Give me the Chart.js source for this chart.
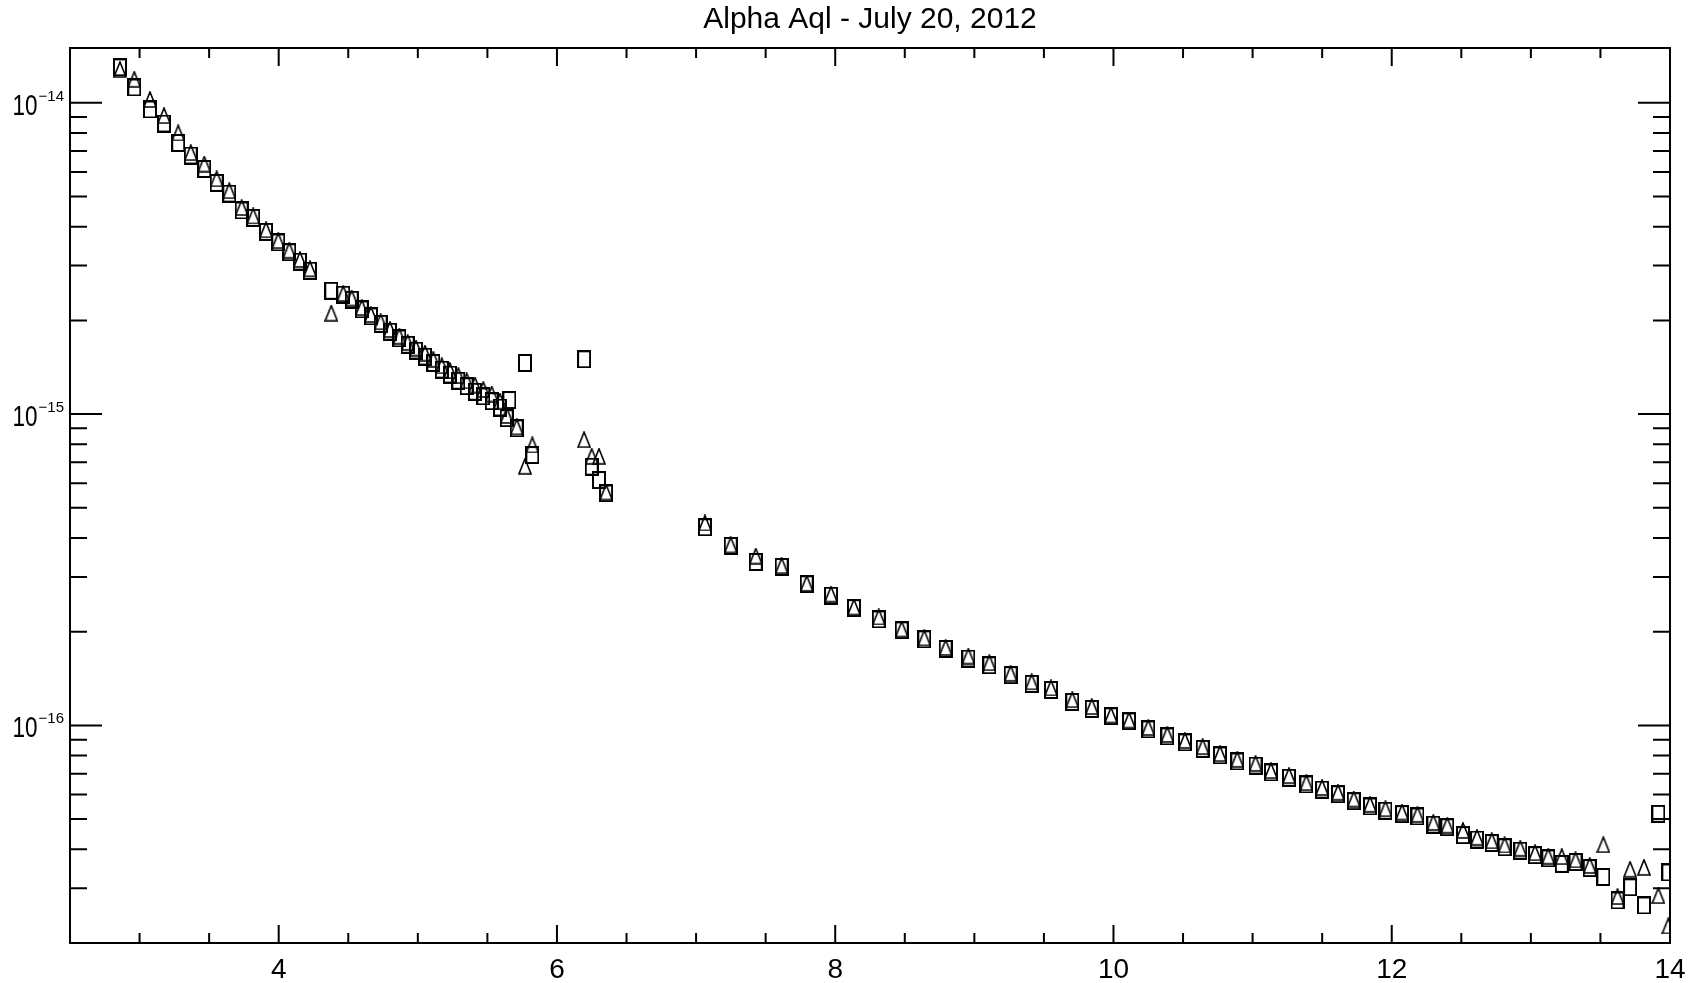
<!DOCTYPE html>
<html>
<head>
<meta charset="utf-8">
<title>Alpha Aql - July 20, 2012</title>
<script src="https://cdn.jsdelivr.net/npm/chart.js@4.4.1/dist/chart.umd.min.js"></script>
<style>
  html, body { margin: 0; padding: 0; background: #fff; }
  canvas { display: block; }
</style>
</head>
<body>
<canvas id="fluxChart" width="1696" height="983"></canvas>
<script>
// wavelength of each sample (shared by both series)
const wavelength = [
  2.859, 2.962, 3.075, 3.176, 3.278, 3.368, 3.465, 3.554, 3.645, 3.734,
  3.817, 3.909, 3.997, 4.076, 4.153, 4.225,
  4.378, 4.464, 4.525, 4.597, 4.663, 4.733, 4.800, 4.867, 4.927, 4.987,
  5.052, 5.111, 5.172, 5.231, 5.291, 5.351, 5.411, 5.471, 5.531, 5.591,
  5.639, 5.658, 5.711, 5.770, 5.823,
  6.195, 6.250, 6.302, 6.353,
  7.064, 7.249, 7.429, 7.615, 7.795, 7.970, 8.135, 8.313, 8.478, 8.640,
  8.794, 8.957, 9.108, 9.261, 9.412, 9.551, 9.704, 9.844, 9.982, 10.112,
  10.250, 10.387, 10.514, 10.641, 10.766, 10.890, 11.021, 11.132, 11.262, 11.386,
  11.499, 11.614, 11.727, 11.844, 11.955, 12.074, 12.185, 12.299, 12.399, 12.512,
  12.613, 12.719, 12.811, 12.924, 13.030, 13.125, 13.222, 13.321, 13.423, 13.521,
  13.623, 13.713, 13.813, 13.916, 13.988,
];

// square symbols
const fluxSquares = [
  1.30e-14, 1.12e-14, 9.52e-15, 8.58e-15, 7.43e-15, 6.77e-15, 6.13e-15, 5.53e-15, 5.11e-15, 4.51e-15,
  4.27e-15, 3.85e-15, 3.56e-15, 3.31e-15, 3.09e-15, 2.89e-15,
  2.49e-15, 2.42e-15, 2.33e-15, 2.17e-15, 2.06e-15, 1.95e-15, 1.84e-15, 1.75e-15, 1.67e-15, 1.60e-15,
  1.53e-15, 1.46e-15, 1.39e-15, 1.34e-15, 1.28e-15, 1.23e-15, 1.18e-15, 1.14e-15, 1.10e-15, 1.05e-15,
  9.70e-16, 1.11e-15, 9.00e-16, 1.46e-15, 7.39e-16,
  1.50e-15, 6.78e-16, 6.14e-16, 5.56e-16,
  4.33e-16, 3.77e-16, 3.35e-16, 3.23e-16, 2.84e-16, 2.61e-16, 2.38e-16, 2.19e-16, 2.02e-16, 1.89e-16,
  1.76e-16, 1.64e-16, 1.56e-16, 1.45e-16, 1.36e-16, 1.30e-16, 1.19e-16, 1.13e-16, 1.07e-16, 1.03e-16,
  9.71e-17, 9.22e-17, 8.82e-17, 8.41e-17, 8.01e-17, 7.66e-17, 7.43e-17, 7.06e-17, 6.79e-17, 6.46e-17,
  6.22e-17, 6.01e-17, 5.71e-17, 5.49e-17, 5.32e-17, 5.19e-17, 5.10e-17, 4.80e-17, 4.71e-17, 4.44e-17,
  4.30e-17, 4.19e-17, 4.06e-17, 3.96e-17, 3.83e-17, 3.74e-17, 3.59e-17, 3.64e-17, 3.48e-17, 3.26e-17,
  2.74e-17, 3.02e-17, 2.64e-17, 5.20e-17, 3.37e-17,
];

// triangle symbols
const fluxTriangles = [
  1.28e-14, 1.19e-14, 1.025e-14, 9.10e-15, 8.00e-15, 6.92e-15, 6.36e-15, 5.70e-15, 5.22e-15, 4.61e-15,
  4.33e-15, 3.91e-15, 3.61e-15, 3.36e-15, 3.14e-15, 2.93e-15,
  2.11e-15, 2.44e-15, 2.36e-15, 2.20e-15, 2.09e-15, 1.98e-15, 1.87e-15, 1.78e-15, 1.70e-15, 1.63e-15,
  1.57e-15, 1.50e-15, 1.43e-15, 1.38e-15, 1.33e-15, 1.28e-15, 1.24e-15, 1.20e-15, 1.16e-15, 1.10e-15,
  9.90e-16, null, 9.10e-16, 6.80e-16, 7.96e-16,
  8.28e-16, 7.32e-16, 7.32e-16, 5.62e-16,
  4.47e-16, 3.80e-16, 3.50e-16, 3.26e-16, 2.86e-16, 2.64e-16, 2.40e-16, 2.23e-16, 2.04e-16, 1.91e-16,
  1.78e-16, 1.67e-16, 1.59e-16, 1.47e-16, 1.38e-16, 1.32e-16, 1.21e-16, 1.15e-16, 1.08e-16, 1.04e-16,
  9.85e-17, 9.35e-17, 8.95e-17, 8.55e-17, 8.12e-17, 7.78e-17, 7.55e-17, 7.16e-17, 6.90e-17, 6.55e-17,
  6.32e-17, 6.10e-17, 5.80e-17, 5.58e-17, 5.40e-17, 5.27e-17, 5.18e-17, 4.88e-17, 4.78e-17, 4.60e-17,
  4.37e-17, 4.26e-17, 4.13e-17, 4.03e-17, 3.90e-17, 3.80e-17, 3.79e-17, 3.70e-17, 3.55e-17, 4.14e-17,
  2.82e-17, 3.45e-17, 3.50e-17, 2.84e-17, 2.27e-17,
];

const xMajorTicks = [4, 6, 8, 10, 12, 14];
const yMajorTicks = [1e-16, 1e-15, 1e-14];
const yLabelBase = "10";
const yLabelExponents = ["\u221216", "\u221215", "\u221214"];

const X_MIN = 2.5;
const X_MAX = 14;
const Y_MIN = 2e-17;
const Y_MAX = 1.5e-14;
const FONT = "'Liberation Sans', sans-serif";

function makeSquare() {
  const c = document.createElement("canvas");
  c.width = 14;
  c.height = 18;
  const g = c.getContext("2d");
  g.strokeStyle = "#000";
  g.lineWidth = 2;
  g.strokeRect(1, 1, 12, 16);
  return c;
}

function makeTriangle() {
  const c = document.createElement("canvas");
  c.width = 14;
  c.height = 17;
  const g = c.getContext("2d");
  g.strokeStyle = "#000";
  g.lineWidth = 1.6;
  g.beginPath();
  g.moveTo(7, 1);
  g.lineTo(13, 16);
  g.lineTo(1, 16);
  g.closePath();
  g.stroke();
  return c;
}

function toPoints(values) {
  return wavelength
    .map((w, i) => ({ x: w, y: values[i] }))
    .filter((p) => p.y != null);
}

const near = (a, b) => Math.abs(a - b) <= Math.abs(b) * 1e-6;
const isMajorX = (v) => xMajorTicks.some((t) => near(v, t));
const majorYIndex = (v) => yMajorTicks.findIndex((t) => near(v, t));

// inward tick marks on all four sides, the box frame and the 10^n labels
const frameTicks = {
  id: "frameTicks",
  afterDatasetsDraw(chart) {
    const { ctx, chartArea: a } = chart;
    const { x, y } = chart.scales;
    ctx.save();
    ctx.strokeStyle = "#000";
    ctx.lineWidth = 2;
    ctx.beginPath();
    x.ticks.forEach((t) => {
      const px = x.getPixelForValue(t.value);
      const len = isMajorX(t.value) ? 18 : 10;
      ctx.moveTo(px, a.bottom);
      ctx.lineTo(px, a.bottom - len);
      ctx.moveTo(px, a.top);
      ctx.lineTo(px, a.top + len);
    });
    y.ticks.forEach((t) => {
      const py = y.getPixelForValue(t.value);
      const len = majorYIndex(t.value) >= 0 ? 32 : 17;
      ctx.moveTo(a.left, py);
      ctx.lineTo(a.left + len, py);
      ctx.moveTo(a.right, py);
      ctx.lineTo(a.right - len, py);
    });
    ctx.stroke();
    ctx.strokeRect(a.left, a.top, a.right - a.left, a.bottom - a.top);

    // y labels: narrow "10" with a raised exponent
    ctx.fillStyle = "#000";
    ctx.textAlign = "right";
    ctx.textBaseline = "alphabetic";
    const rightEdge = a.left - 6;
    yMajorTicks.forEach((v, i) => {
      const py = y.getPixelForValue(v);
      ctx.font = `15px ${FONT}`;
      const exp = yLabelExponents[i];
      const expW = ctx.measureText(exp).width;
      ctx.fillText(exp, rightEdge, py - 2);
      ctx.save();
      ctx.translate(rightEdge - expW - 1, py + 12);
      ctx.scale(0.75, 1);
      ctx.font = `30px ${FONT}`;
      ctx.fillText(yLabelBase, 0, 0);
      ctx.restore();
    });
    ctx.restore();
  },
};

Chart.defaults.color = "#000";
Chart.defaults.font.family = FONT;

const squareImg = makeSquare();
const triangleImg = makeTriangle();

new Chart(document.getElementById("fluxChart"), {
  type: "scatter",
  data: {
    datasets: [
      {
        data: toPoints(fluxSquares),
        pointStyle: squareImg,
        pointRadius: 9,
        pointHoverRadius: 9,
        clip: 0,
      },
      {
        data: toPoints(fluxTriangles),
        pointStyle: triangleImg,
        pointRadius: 9,
        pointHoverRadius: 9,
        clip: 0,
      },
    ],
  },
  options: {
    responsive: false,
    animation: false,
    layout: {
      padding: { left: 0, right: 26, top: 0, bottom: 0 },
    },
    scales: {
      x: {
        type: "linear",
        min: X_MIN,
        max: X_MAX,
        grid: { display: false, drawTicks: false },
        border: { display: false },
        afterBuildTicks: (scale) => {
          const ticks = [];
          for (let v = 3; v <= X_MAX + 1e-9; v += 0.5) ticks.push({ value: v });
          scale.ticks = ticks;
        },
        afterFit: (scale) => {
          scale.height = 40;
        },
        ticks: {
          autoSkip: false,
          maxRotation: 0,
          padding: 10,
          font: { size: 28 },
          callback: (value) => (isMajorX(value) ? String(Math.round(value)) : ""),
        },
      },
      y: {
        type: "logarithmic",
        min: Y_MIN,
        max: Y_MAX,
        grid: { display: false, drawTicks: false },
        border: { display: false },
        afterBuildTicks: (scale) => {
          const ticks = [];
          for (let e = -17; e <= -14; e++) {
            for (let m = 1; m <= 9; m++) {
              const v = m * Math.pow(10, e);
              if (v >= Y_MIN * 0.999 && v <= Y_MAX * 1.001) ticks.push({ value: v });
            }
          }
          scale.ticks = ticks;
        },
        afterFit: (scale) => {
          scale.width = 70;
        },
        ticks: {
          display: false,
        },
      },
    },
    plugins: {
      legend: { display: false },
      tooltip: { enabled: false },
      title: {
        display: true,
        text: "Alpha Aql - July 20, 2012",
        fullSize: false,
        color: "#000",
        font: { size: 30, weight: "normal", family: FONT },
        padding: { top: 2, bottom: 10 },
      },
    },
  },
  plugins: [frameTicks],
});
</script>
</body>
</html>
